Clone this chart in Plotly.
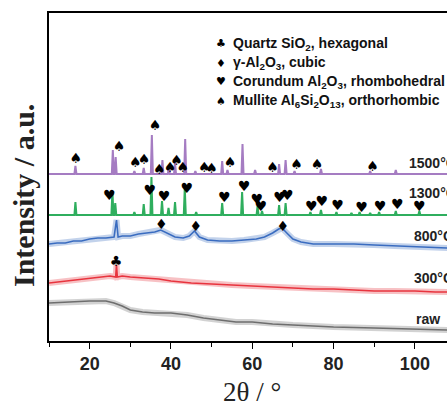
import plotly.graph_objects as go

# ---------------- data (2θ in degrees, intensity in arbitrary units) ----------------
X_RANGE = [10, 107.9]
Y_RANGE = [0, 328]

# 1500 °C pattern: flat baseline + sharp peaks
base_1500 = 167
peaks_1500_pos = [16.5, 25.7, 26.4, 31.0, 33.3, 35.3, 37.9, 39.5, 41.0, 43.5, 46.0,
                  52.6, 53.9, 57.6, 60.7, 66.6, 68.2, 70.4, 76.9, 89.0, 95.3]
peaks_1500_top = [175, 191, 184, 170, 173, 206, 181, 176, 178, 202, 170,
                  180, 171, 197, 171, 177, 181, 170, 172, 170, 171]

# 1300 °C pattern
base_1300 = 126
peaks_1300_pos = [16.5, 25.6, 26.3, 31.0, 33.3, 35.2, 37.8, 39.4, 41.0, 43.4, 46.2,
                  52.6, 57.5, 61.3, 62.4, 66.6, 68.2, 74.3, 76.9, 80.7, 84.4,
                  86.4, 89.0, 91.2, 95.3, 101.1]
peaks_1300_top = [139, 150, 138, 129, 137, 164, 140, 133, 139, 153, 129,
                  138, 149, 135, 130, 136, 138, 129, 131, 129, 128,
                  129, 128, 129, 130, 130]

# 800 °C pattern (broad γ-Al2O3 humps)
x_800 = [10, 12, 14, 16, 18, 20, 22, 24, 26, 26.6, 27, 28, 30, 32, 34, 36, 37.5, 39, 41,
         43, 44.5, 45.8, 47, 49, 52, 55, 58, 61, 63, 65, 66.5, 67.3, 68.5, 70, 72, 75,
         80, 85, 90, 95, 100, 105, 108]
y_800 = [97, 98, 98, 100, 100, 102, 103, 103, 104, 121, 104, 105, 105, 107, 108, 109, 111,
         108, 104, 103, 105, 110, 104, 101, 100, 100, 101, 102, 104, 108, 112, 113, 108,
         102, 99, 97, 97, 97, 96, 95, 94, 93, 93]

# 300 °C pattern
x_300 = [10, 14, 18, 22, 25, 26.4, 26.6, 26.8, 28, 30, 33, 35, 37, 40, 45, 50, 55, 60,
         65, 70, 75, 80, 85, 90, 95, 100, 105, 108]
y_300 = [58, 60, 62, 64, 65, 64, 76, 64, 65, 64, 63, 62, 62, 60, 58, 57, 56, 55,
         54, 53, 52, 52, 51, 50, 50, 50, 49, 49]

# raw powder
x_raw = [10, 15, 20, 24, 26, 28, 30, 33, 36, 40, 44, 48, 52, 56, 60, 65, 70, 80, 90, 100, 108]
y_raw = [38, 39, 40, 40, 38, 35, 31, 29, 28, 28, 26, 23, 21, 19, 19, 17, 16, 14, 13, 12, 11]

# phase markers
spade_x = [16.6, 27.2, 31.2, 33.4, 36.1, 37.1, 39.8, 41.4, 42.9, 48.2, 50.0, 54.5, 65.0, 70.9, 75.9, 89.6]
spade_y = [182, 194, 178, 181, 215, 171, 173, 180, 173, 173, 172, 178, 173, 176, 176, 174]
heart_x = [24.8, 34.8, 38.3, 43.9, 53.1, 58.0, 61.1, 62.1, 66.7, 68.6, 74.5, 77.1, 81.0, 86.9, 91.4, 95.7, 101.1]
heart_y = [145, 150, 144, 152, 143, 154, 141, 134, 143, 145, 134, 139, 135, 133, 134, 136, 134]
diamond_x = [37.6, 46.1, 67.5]
diamond_y = [116, 114, 114]
club_x = [26.5]
club_y = [79]

labels = ["1500°C", "1300°C", "800°C", "300°C", "raw"]
label_x = [98.0, 98.0, 99.3, 99.3, 99.8]
label_y = [178, 148, 105, 63, 22]

legend_symbols = ["♣", "♦", "♥", "♠"]
legend_texts = ["Quartz SiO<sub>2</sub>, hexagonal",
                "γ-Al<sub>2</sub>O<sub>3</sub>, cubic",
                "Corundum Al<sub>2</sub>O<sub>3</sub>, rhombohedral",
                "Mullite Al<sub>6</sub>Si<sub>2</sub>O<sub>13</sub>, orthorhombic"]

x_ticks = [20, 40, 60, 80, 100]
x_minor = [10, 30, 50, 70, 90]

# ---------------- build ----------------
def peak_line(base, pos, top, x0=10, x1=108, hw=0.25):
    xs, ys = [x0], [base]
    for p, t in zip(pos, top):
        xs += [p - hw, p, p + hw]
        ys += [base, t, base]
    xs.append(x1)
    ys.append(base)
    return xs, ys

PURPLE = "#a57cc2"
GREEN = "#2fae5e"
BLUE = "#3a6cc0"
RED = "#e8343e"
GRAY = "#6e6e6e"

fig = go.Figure()

x15, y15 = peak_line(base_1500, peaks_1500_pos, peaks_1500_top)
x13, y13 = peak_line(base_1300, peaks_1300_pos, peaks_1300_top)

for xs, ys, c in [(x_800, y_800, BLUE), (x_300, y_300, RED), (x_raw, y_raw, GRAY)]:
    fig.add_trace(go.Scatter(x=xs, y=ys, mode="lines", line=dict(color=c, width=6),
                             opacity=0.3, hoverinfo="skip", showlegend=False))
    fig.add_trace(go.Scatter(x=xs, y=ys, mode="lines", line=dict(color=c, width=1.6),
                             showlegend=False))

fig.add_trace(go.Scatter(x=x13, y=y13, mode="lines", line=dict(color=GREEN, width=2), showlegend=False))
fig.add_trace(go.Scatter(x=x15, y=y15, mode="lines", line=dict(color=PURPLE, width=2), showlegend=False))

for sx, sy, sym in [(spade_x, spade_y, "♠"), (heart_x, heart_y, "♥"),
                    (diamond_x, diamond_y, "♦"), (club_x, club_y, "♣")]:
    fig.add_trace(go.Scatter(x=sx, y=sy, mode="text", text=[sym] * len(sx),
                             textposition="middle center",
                             textfont=dict(size=14, color="black", family="DejaVu Sans"),
                             showlegend=False, cliponaxis=False))

for t, lx, ly in zip(labels, label_x, label_y):
    fig.add_annotation(x=lx, y=ly, xref="x", yref="y", text=t, showarrow=False,
                       xanchor="left", yanchor="middle",
                       font=dict(family="Liberation Sans", size=14, color="#222", weight="bold"))

PLOT_L, PLOT_T, PLOT_W, PLOT_H = 49, 13, 398, 328

def px_x(px):
    return (px - PLOT_L) / PLOT_W

def px_y(py):
    return (PLOT_T + PLOT_H - py) / PLOT_H

leg_y_px = [44, 63, 82, 101]
for sym, txt, py in zip(legend_symbols, legend_texts, leg_y_px):
    fig.add_annotation(x=px_x(221), y=px_y(py), xref="paper", yref="paper", text=sym,
                       showarrow=False, xanchor="center", yanchor="middle",
                       font=dict(family="DejaVu Sans", size=11, color="black"))
    fig.add_annotation(x=px_x(231), y=px_y(py), xref="paper", yref="paper", text=txt,
                       showarrow=False, xanchor="left", yanchor="middle",
                       font=dict(family="Liberation Sans", size=14, color="#111", weight="bold"))

# axis titles
fig.add_annotation(x=60, y=px_y(392), xref="x", yref="paper", text="2θ / °",
                   showarrow=False, xanchor="center", yanchor="middle",
                   font=dict(family="Liberation Serif", size=27, color="#222"))
fig.add_annotation(x=px_x(24), y=px_y(196), xref="paper", yref="paper",
                   text="Intensity / a.u.", textangle=-90, showarrow=False,
                   xanchor="center", yanchor="middle",
                   font=dict(family="Liberation Serif", size=30, color="#222", weight="bold"))

fig.update_layout(
    width=447, height=405, autosize=False,
    margin=dict(l=PLOT_L, r=447 - PLOT_L - PLOT_W, t=PLOT_T, b=405 - PLOT_T - PLOT_H),
    paper_bgcolor="white", plot_bgcolor="white",
    xaxis=dict(range=X_RANGE, showgrid=False, zeroline=False, showline=True,
               linecolor="black", linewidth=1.5, mirror=True,
               ticks="outside", ticklen=6, tickwidth=1.3, tickcolor="black",
               tickvals=x_ticks, ticktext=[str(v) for v in x_ticks],
               tickfont=dict(family="Liberation Sans", size=18, color="#222", weight="bold"),
               minor=dict(tickvals=x_minor, ticks="outside", ticklen=4, tickwidth=1.3,
                          tickcolor="black", showgrid=False)),
    yaxis=dict(range=Y_RANGE, showgrid=False, zeroline=False, showline=True,
               linecolor="black", linewidth=1.5, ticks="", showticklabels=False),
)

fig.write_html("out.html", config={"displayModeBar": False},
               post_script="document.body.style.margin='0';document.body.style.overflow='hidden';")
